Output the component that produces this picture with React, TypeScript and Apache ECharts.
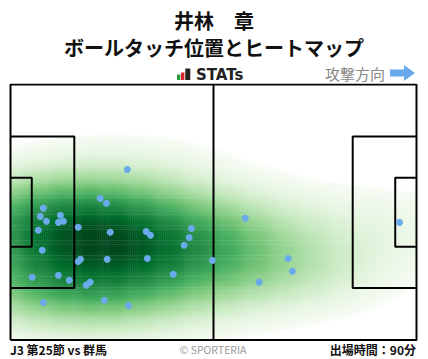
import React, { useEffect, useRef } from "react";
import * as echarts from "echarts";

// Pitch dimensions (metres)
const PITCH_LENGTH = 105;
const PITCH_WIDTH = 68;

// Ball touch positions (metres, x = along attack direction, y = from bottom touchline)
const touchX = [30.2, 23.2, 24.8, 8.5, 7.7, 12.9, 9.3, 12.4, 13.7, 17.5, 7.2, 25.8, 35.1, 36.2, 46.8, 46.2, 44.9, 8.2, 18.1, 17.5, 25.0, 35.4, 52.2, 42.1, 5.6, 12.4, 15.2, 20.6, 19.6, 8.5, 24.3, 30.5, 60.7, 71.8, 72.9, 64.3, 100.6];
const touchY = [45.4, 37.7, 36.4, 35.1, 32.9, 33.2, 31.6, 31.3, 31.6, 30.0, 29.2, 28.7, 28.9, 27.9, 29.7, 27.3, 25.2, 23.9, 21.5, 20.9, 21.5, 21.7, 21.2, 17.5, 16.7, 17.2, 15.9, 15.4, 14.6, 10.0, 10.6, 9.2, 32.4, 21.7, 18.3, 15.4, 31.3];

const titleName = "井林\u3000章";
const titleSub = "ボールタッチ位置とヒートマップ";
const matchLabel = "J3 第25節 vs 群馬";
const minutesLabel = "出場時間：90分";
const creditLabel = "© SPORTERIA";
const directionLabel = "攻撃方向";

const greens = ["#f7fcf5", "#e5f5e0", "#c7e9c0", "#a1d99b", "#74c476", "#41ab5d", "#238b45", "#006d2c", "#00441b"];

const CELL = 0.5;
const BW_ADJUST = 1.6;
const THRESH = 0.04;
const GAMMA = 0.72;

// Gaussian KDE (Scott's rule, full covariance) of the touch positions
function buildDensity() {
  const n = touchX.length;
  const mx = touchX.reduce((a, b) => a + b, 0) / n;
  const my = touchY.reduce((a, b) => a + b, 0) / n;
  let sxx = 0, syy = 0, sxy = 0;
  for (let i = 0; i < n; i++) {
    const dx = touchX[i] - mx, dy = touchY[i] - my;
    sxx += dx * dx; syy += dy * dy; sxy += dx * dy;
  }
  sxx /= n - 1; syy /= n - 1; sxy /= n - 1;
  const f = Math.pow(n, -1 / 6) * BW_ADJUST;
  const a = sxx * f * f, d = syy * f * f, b = sxy * f * f;
  const det = a * d - b * b;
  const ia = d / det, id = a / det, ib = -b / det;
  const norm = 1 / (2 * Math.PI * Math.sqrt(det) * n);
  const cells: number[][] = [];
  let maxD = 0;
  const nx = Math.ceil(PITCH_LENGTH / CELL), ny = Math.ceil(PITCH_WIDTH / CELL);
  for (let gx = 0; gx < nx; gx++) {
    for (let gy = 0; gy < ny; gy++) {
      const cx = (gx + 0.5) * CELL, cy = (gy + 0.5) * CELL;
      let s = 0;
      for (let i = 0; i < n; i++) {
        const dx = cx - touchX[i], dy = cy - touchY[i];
        s += Math.exp(-0.5 * (ia * dx * dx + 2 * ib * dx * dy + id * dy * dy));
      }
      const v = s * norm;
      if (v > maxD) maxD = v;
      cells.push([cx, cy, v]);
    }
  }
  return { cells, maxD };
}

function rectLine(x0: number, y0: number, x1: number, y1: number) {
  return [[x0, y0], [x1, y0], [x1, y1], [x0, y1], [x0, y0]];
}

export default function App() {
  const ref = useRef<HTMLDivElement>(null);
  useEffect(() => {
    if (!ref.current) return;
    const chart = echarts.init(ref.current, null, { renderer: "svg" });
    const { cells, maxD } = buildDensity();
    const tMin = Math.pow(THRESH, GAMMA);
    const heat = cells
      .filter((c) => c[2] >= maxD * THRESH)
      .map((c) => [c[0], c[1], Math.pow(c[2] / maxD, GAMMA)]);

    const pbTop = PITCH_WIDTH / 2 + 20.16, pbBot = PITCH_WIDTH / 2 - 20.16;
    const gaTop = PITCH_WIDTH / 2 + 9.16, gaBot = PITCH_WIDTH / 2 - 9.16;
    const pitchShapes = [
      rectLine(0, 0, PITCH_LENGTH, PITCH_WIDTH),
      [[PITCH_LENGTH / 2, 0], [PITCH_LENGTH / 2, PITCH_WIDTH]],
      [[0, pbBot], [16.5, pbBot], [16.5, pbTop], [0, pbTop]],
      [[0, gaBot], [5.5, gaBot], [5.5, gaTop], [0, gaTop]],
      [[PITCH_LENGTH, pbBot], [PITCH_LENGTH - 16.5, pbBot], [PITCH_LENGTH - 16.5, pbTop], [PITCH_LENGTH, pbTop]],
      [[PITCH_LENGTH, gaBot], [PITCH_LENGTH - 5.5, gaBot], [PITCH_LENGTH - 5.5, gaTop], [PITCH_LENGTH, gaTop]],
    ];
    const font = '"Noto Sans CJK JP", "Noto Sans", sans-serif';
    const half = CELL / 2;

    chart.setOption({
      animation: false,
      grid: { left: 10.5, right: 11.5, top: 84.5, bottom: 19 },
      xAxis: { type: "value", min: 0, max: PITCH_LENGTH, show: false },
      yAxis: { type: "value", min: 0, max: PITCH_WIDTH, show: false },
      visualMap: {
        type: "continuous",
        show: false,
        seriesIndex: 0,
        dimension: 2,
        min: tMin,
        max: 1,
        inRange: { color: greens },
      },
      series: [
        {
          type: "custom",
          silent: true,
          clip: true,
          progressive: 0,
          z: 1,
          data: heat,
          renderItem: (params: any, api: any) => {
            const x = api.value(0), y = api.value(1);
            const p0 = api.coord([x - half, y + half]);
            const p1 = api.coord([x + half, y - half]);
            return {
              type: "rect",
              shape: { x: p0[0], y: p0[1], width: p1[0] - p0[0] + 0.4, height: p1[1] - p0[1] + 0.4 },
              style: { fill: api.visual("color") },
            };
          },
        },
        ...pitchShapes.map((pts) => ({
          type: "line",
          silent: true,
          z: 5,
          symbol: "none",
          data: pts,
          lineStyle: { color: "#000", width: 2 },
        })),
        {
          type: "scatter",
          silent: true,
          z: 10,
          symbolSize: 7,
          data: touchX.map((x, i) => [x, touchY[i]]),
          itemStyle: { color: "#6aaaea", opacity: 1 },
        },
      ],
      graphic: [
        { type: "text", left: "center", top: 10, style: { text: titleName, font: `bold 20px ${font}`, lineHeight: 20, fill: "#111" } },
        { type: "text", left: "center", top: 37, style: { text: titleSub, font: `bold 20px ${font}`, lineHeight: 20, fill: "#111" } },
        { type: "rect", shape: { x: 177, y: 74.5, width: 3.4, height: 5.5 }, style: { fill: "#2e9a3e" } },
        { type: "rect", shape: { x: 181, y: 72.5, width: 3.4, height: 7.5 }, style: { fill: "#d9262c" } },
        { type: "rect", shape: { x: 185.3, y: 68.5, width: 5, height: 11.5 }, style: { fill: "#222" } },
        { type: "text", x: 196, y: 74.5, style: { text: "STATs", font: `bold 15px "DejaVu Sans", sans-serif`, fill: "#222", verticalAlign: "middle" } },
        { type: "text", x: 325, y: 73, style: { text: directionLabel, font: `15px ${font}`, fill: "#888", verticalAlign: "middle" } },
        {
          type: "polygon",
          shape: { points: [[390, 69.5], [404, 69.5], [404, 65], [415, 73], [404, 81], [404, 76.5], [390, 76.5]] },
          style: { fill: "#67a9ea" },
        },
        { type: "text", x: 10, y: 349.5, style: { text: matchLabel, font: `bold 12px ${font}`, fill: "#111", verticalAlign: "middle" } },
        { type: "text", x: 213, y: 349, style: { text: creditLabel, font: `10.5px ${font}`, fill: "#999", align: "center", verticalAlign: "middle" } },
        { type: "text", x: 416, y: 349.5, style: { text: minutesLabel, font: `bold 12px ${font}`, fill: "#111", align: "right", verticalAlign: "middle" } },
      ],
    });
    return () => chart.dispose();
  }, []);
  return <div ref={ref} style={{ width: 428, height: 359, position: "absolute", left: 0, top: 0 }} />;
}
